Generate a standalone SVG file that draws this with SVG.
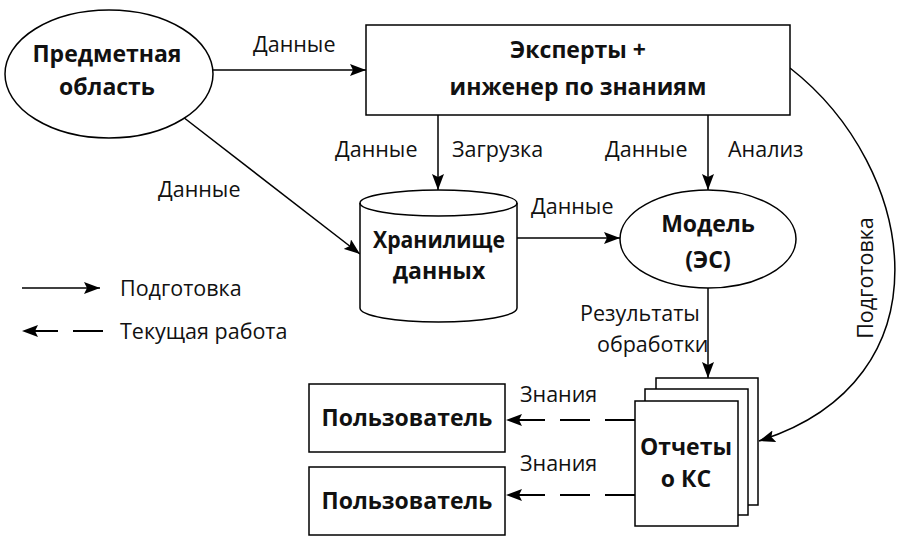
<svg xmlns="http://www.w3.org/2000/svg" width="914" height="538" viewBox="0 0 914 538">
<style>
.shape{fill:#fff;stroke:#000;stroke-width:1.5}
.line{fill:none;stroke:#000;stroke-width:1.5}
.dash{fill:none;stroke:#000;stroke-width:2;stroke-dasharray:30 15}
.node{font-family:"Open Sans","Liberation Sans",sans-serif;font-weight:bold;font-size:23px;text-anchor:middle;fill:#111}
.lbl{font-family:"Open Sans","Liberation Sans",sans-serif;font-size:21.5px;fill:#111}
</style>
<defs>
<marker id="arr" markerUnits="userSpaceOnUse" markerWidth="17" markerHeight="12" refX="16" refY="6" orient="auto">
<path d="M0,0 L16,6 L0,12 L3,6 Z" fill="#000"/>
</marker>
</defs>
<rect width="914" height="538" fill="#fff"/>

<g id="connectors">
<line class="line" x1="213" y1="70" x2="366" y2="70" marker-end="url(#arr)"/>
<line class="line" x1="183" y1="117" x2="360" y2="254" marker-end="url(#arr)"/>
<line class="line" x1="438" y1="115" x2="438" y2="190" marker-end="url(#arr)"/>
<line class="line" x1="708" y1="115" x2="708" y2="190" marker-end="url(#arr)"/>
<line class="line" x1="517" y1="238" x2="620" y2="238" marker-end="url(#arr)"/>
<line class="line" x1="708" y1="288" x2="708" y2="378" marker-end="url(#arr)"/>
<path class="line" d="M790,68 C918,168 952,380 759,441" marker-end="url(#arr)"/>
<line class="dash" x1="635" y1="420" x2="506" y2="420" marker-end="url(#arr)"/>
<line class="dash" x1="635" y1="495" x2="506" y2="495" marker-end="url(#arr)"/>
<text class="lbl" x="253" y="52">Данные</text>
<text class="lbl" x="158" y="197">Данные</text>
<text class="lbl" x="335" y="157">Данные</text>
<text class="lbl" x="452" y="157">Загрузка</text>
<text class="lbl" x="605" y="157">Данные</text>
<text class="lbl" x="728" y="157">Анализ</text>
<text class="lbl" x="531" y="214">Данные</text>
<text class="lbl" x="580" y="321">Результаты</text>
<text class="lbl" x="597" y="352">обработки</text>
<text class="lbl" x="520" y="402">Знания</text>
<text class="lbl" x="520" y="471">Знания</text>
<text class="lbl" transform="translate(873,278) rotate(-90)" text-anchor="middle">Подготовка</text>
</g>

<g id="legend">
<line class="line" x1="22" y1="288" x2="100" y2="288" marker-end="url(#arr)"/>
<text class="lbl" x="120" y="296">Подготовка</text>
<line class="dash" x1="103" y1="331" x2="22" y2="331" stroke-dasharray="21 14 46" marker-end="url(#arr)"/>
<text class="lbl" x="120" y="339">Текущая работа</text>
</g>

<g id="predmetnaya">
<ellipse class="shape" cx="109" cy="74" rx="104" ry="64"/>
<text class="node" x="107" y="62">Предметная</text>
<text class="node" x="107" y="95">область</text>
</g>

<g id="experts">
<rect class="shape" x="366" y="25" width="424" height="90"/>
<text class="node" x="578" y="58">Эксперты +</text>
<text class="node" x="578" y="95">инженер по знаниям</text>
</g>

<g id="storage">
<path class="shape" d="M360,203 L360,308 A78.5,14 0 0 0 517,308 L517,203 A78.5,13 0 0 0 360,203 Z"/>
<path class="line" d="M360,203 A78.5,13 0 0 0 517,203"/>
<text class="node" x="439" y="248" textLength="132" lengthAdjust="spacingAndGlyphs">Хранилище</text>
<text class="node" x="439" y="279">данных</text>
</g>

<g id="model">
<ellipse class="shape" cx="708" cy="239" rx="88" ry="49"/>
<text class="node" x="708" y="232">Модель</text>
<text class="node" x="708" y="268">(ЭС)</text>
</g>

<g id="reports">
<rect class="shape" x="656" y="378" width="102" height="127"/>
<rect class="shape" x="645" y="389" width="103" height="126"/>
<rect class="shape" x="635" y="401" width="103" height="125"/>
<text class="node" x="686" y="455">Отчеты</text>
<text class="node" x="686" y="487">о КС</text>
</g>

<g id="user1">
<rect class="shape" x="309" y="384" width="196" height="68"/>
<text class="node" x="407" y="426">Пользователь</text>
</g>

<g id="user2">
<rect class="shape" x="309" y="467" width="196" height="68"/>
<text class="node" x="407" y="509">Пользователь</text>
</g>
</svg>
